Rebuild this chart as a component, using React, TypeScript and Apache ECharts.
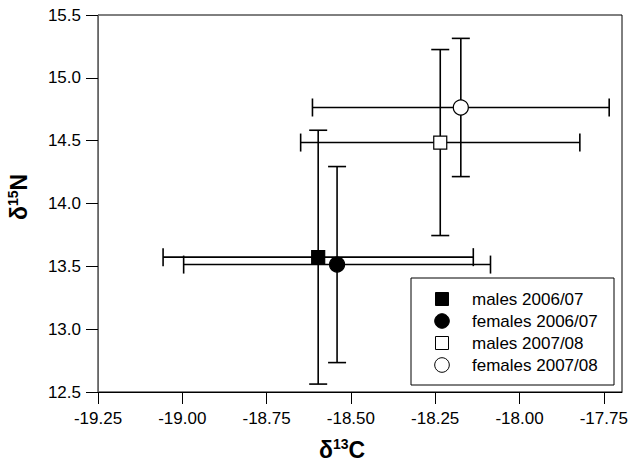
import React, { useEffect, useRef } from "react";
import * as echarts from "echarts";

const groups = ["males 2006/07", "females 2006/07", "males 2007/08", "females 2007/08"];
const meanC = [-18.597, -18.541, -18.235, -18.174];
const meanN = [13.573, 13.514, 14.485, 14.764];
const sdC = [0.46, 0.455, 0.414, 0.44];
const sdN = [1.01, 0.78, 0.74, 0.55];
const symbols = ["rect", "circle", "rect", "circle"];
const fills = ["#000", "#000", "#fff", "#fff"];
const symbolSizes = [13, 15, 13, 15];
const xTicks = [-19.25, -19.0, -18.75, -18.5, -18.25, -18.0, -17.75];

const FONT = "Liberation Sans, Arial, sans-serif";

export default function App() {
  const ref = useRef<HTMLDivElement>(null);
  useEffect(() => {
    if (!ref.current) return;
    const chart = echarts.init(ref.current, null, { renderer: "svg" });
    const gridLeft = 98, gridTop = 15, gridRight = 8, gridBottom = 75;

    const errData = groups.map((g, i) => [meanC[i], meanN[i], sdC[i], sdN[i]]);
    const cap = 9;
    const lineStyle = { stroke: "#000", lineWidth: 1.6, fill: "none" };

    const legendX = 411, legendY = 278, rowY = [299, 321, 343, 365];
    const legendGraphics: any[] = [
      { type: "rect", shape: { x: legendX, y: legendY, width: 203, height: 107 }, style: { fill: "#fff", stroke: "#000", lineWidth: 1 }, z: 100 },
    ];
    groups.forEach((g, i) => {
      if (symbols[i] === "rect") {
        legendGraphics.push({ type: "rect", shape: { x: 442 - 6.5, y: rowY[i] - 6.5, width: 13, height: 13 }, style: { fill: fills[i], stroke: "#000", lineWidth: 1 }, z: 101 });
      } else {
        legendGraphics.push({ type: "circle", shape: { cx: 442, cy: rowY[i], r: 7.3 }, style: { fill: fills[i], stroke: "#000", lineWidth: 1 }, z: 101 });
      }
      legendGraphics.push({ type: "text", x: 472, y: rowY[i], style: { text: g, font: `17px ${FONT}`, fill: "#000", textVerticalAlign: "middle", verticalAlign: "middle" }, z: 101 });
    });

    const titleRich = {
      d: { font: `bold 23px ${FONT}`, fill: "#000", lineHeight: 26, verticalAlign: "middle" },
      s: { font: `bold 14px ${FONT}`, fill: "#000", lineHeight: 15, verticalAlign: "top", padding: [0, 0, 11, 0] },
      c: { font: `bold 23px ${FONT}`, fill: "#000", lineHeight: 26, verticalAlign: "middle" },
    };

    const option: any = {
      animation: false,
      backgroundColor: "#fff",
      grid: { left: gridLeft, top: gridTop, right: gridRight, bottom: gridBottom, show: true, borderColor: "#000", borderWidth: 1, outerBoundsMode: "none" },
      xAxis: {
        type: "value",
        min: -19.25,
        max: -17.696,
        interval: 0.25,
        axisLine: { show: true, lineStyle: { color: "#000", width: 1 } },
        axisTick: { show: true, length: 12, customValues: xTicks, lineStyle: { color: "#000" } },
        axisLabel: { customValues: xTicks, margin: 18, fontSize: 17, fontFamily: FONT, color: "#000", formatter: (v: number) => v.toFixed(2) },
        splitLine: { show: false },
      },
      yAxis: {
        type: "value",
        min: 12.5,
        max: 15.5,
        interval: 0.5,
        axisLine: { show: true, lineStyle: { color: "#666", width: 1 } },
        axisTick: { show: true, length: 12, lineStyle: { color: "#000" } },
        axisLabel: { margin: 17, fontSize: 17, fontFamily: FONT, color: "#000", formatter: (v: number) => v.toFixed(1) },
        splitLine: { show: false },
      },
      graphic: [
        {
          type: "text", x: 342, y: 450,
          style: { text: "{d|δ}{s|13}{c|C}", rich: titleRich, align: "center", verticalAlign: "middle" },
        },
        {
          type: "text", x: 19, y: 197, rotation: Math.PI / 2,
          style: { text: "{d|δ}{s|15}{c|N}", rich: titleRich, align: "center", verticalAlign: "middle" },
        },
        ...legendGraphics,
      ],
      series: [
        {
          type: "custom",
          data: errData,
          encode: { x: 0, y: 1 },
          clip: false,
          z: 2,
          renderItem: (params: any, api: any) => {
            const x = api.value(0), y = api.value(1), xe = api.value(2), ye = api.value(3);
            const c = api.coord([x, y]);
            const l = api.coord([x - xe, y])[0];
            const r = api.coord([x + xe, y])[0];
            const t = api.coord([x, y + ye])[1];
            const b = api.coord([x, y - ye])[1];
            return {
              type: "group",
              children: [
                { type: "line", shape: { x1: l, y1: c[1], x2: r, y2: c[1] }, style: lineStyle },
                { type: "line", shape: { x1: l, y1: c[1] - cap, x2: l, y2: c[1] + cap }, style: lineStyle },
                { type: "line", shape: { x1: r, y1: c[1] - cap, x2: r, y2: c[1] + cap }, style: lineStyle },
                { type: "line", shape: { x1: c[0], y1: t, x2: c[0], y2: b }, style: lineStyle },
                { type: "line", shape: { x1: c[0] - cap, y1: t, x2: c[0] + cap, y2: t }, style: lineStyle },
                { type: "line", shape: { x1: c[0] - cap, y1: b, x2: c[0] + cap, y2: b }, style: lineStyle },
              ],
            };
          },
        },
        ...groups.map((g, i) => ({
          type: "scatter",
          name: g,
          z: 5,
          symbol: symbols[i],
          symbolSize: symbolSizes[i],
          itemStyle: { color: fills[i], borderColor: "#000", borderWidth: 1.2, opacity: 1 },
          data: [[meanC[i], meanN[i]]],
        })),
      ],
    };
    chart.setOption(option);
    return () => chart.dispose();
  }, []);
  return <div ref={ref} style={{ position: "fixed", left: 0, top: 0, width: 630, height: 467, background: "#fff" }} />;
}
